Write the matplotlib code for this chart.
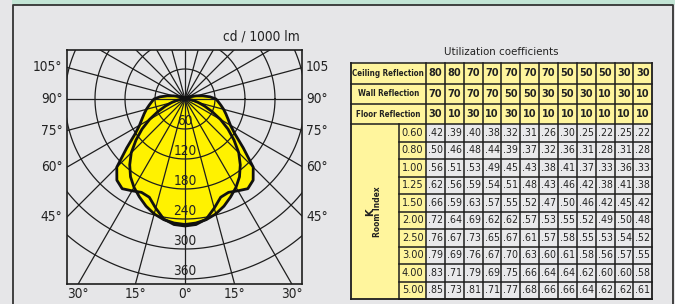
import os
import numpy as np
import matplotlib
matplotlib.use('Agg')
import matplotlib.pyplot as plt
import matplotlib.font_manager as fm
from matplotlib.patches import Rectangle

# luminous intensity, cd / 1000 lm, angle from nadir (symmetric curves)
angles = [0, 5, 10, 15, 20, 25, 30, 35, 40, 45, 50, 55, 60, 65, 70, 75, 80, 85, 90,
          95, 100, 105, 110, 120, 135, 150, 165, 180]
curve_a = [254, 252, 244, 226, 209, 206, 212, 219, 212, 193, 152, 122, 105, 95, 87, 80, 73, 67, 62,
           50, 36, 24, 16, 9, 5, 3, 1, 0]
curve_b = [251, 249, 245, 238, 228, 216, 204, 190, 172, 152, 128, 105, 82, 60, 42, 28, 18, 10, 5,
           2, 0, 0, 0, 0, 0, 0, 0, 0]
rings = [60, 120, 180, 240, 300, 360]
left_labels = ['105°', '90°', '75°', '60°', '45°']
right_labels = ['105', '90°', '75°', '60°', '45°']
side_angles = [105, 90, 75, 60, 45]
bottom_labels = ['30°', '15°', '0°', '15°', '30°']
bottom_angles = [-30, -15, 0, 15, 30]

# utilization table
ceiling = [80, 80, 70, 70, 70, 70, 70, 50, 50, 50, 30, 30]
wall = [70, 70, 70, 70, 50, 50, 30, 50, 30, 10, 30, 10]
floor_ = [30, 10, 30, 10, 30, 10, 10, 10, 10, 10, 10, 10]
room_index = ['0.60', '0.80', '1.00', '1.25', '1.50', '2.00', '2.50', '3.00', '4.00', '5.00']
coeffs = [
    ['.42', '.39', '.40', '.38', '.32', '.31', '.26', '.30', '.25', '.22', '.25', '.22'],
    ['.50', '.46', '.48', '.44', '.39', '.37', '.32', '.36', '.31', '.28', '.31', '.28'],
    ['.56', '.51', '.53', '.49', '.45', '.43', '.38', '.41', '.37', '.33', '.36', '.33'],
    ['.62', '.56', '.59', '.54', '.51', '.48', '.43', '.46', '.42', '.38', '.41', '.38'],
    ['.66', '.59', '.63', '.57', '.55', '.52', '.47', '.50', '.46', '.42', '.45', '.42'],
    ['.72', '.64', '.69', '.62', '.62', '.57', '.53', '.55', '.52', '.49', '.50', '.48'],
    ['.76', '.67', '.73', '.65', '.67', '.61', '.57', '.58', '.55', '.53', '.54', '.52'],
    ['.79', '.69', '.76', '.67', '.70', '.63', '.60', '.61', '.58', '.56', '.57', '.55'],
    ['.83', '.71', '.79', '.69', '.75', '.66', '.64', '.64', '.62', '.60', '.60', '.58'],
    ['.85', '.73', '.81', '.71', '.77', '.68', '.66', '.66', '.64', '.62', '.62', '.61'],
]


def narrow_font(bold):
    """look for an installed narrow/condensed face, None if there is none"""
    for f in fm.fontManager.ttflist:
        tag = (f.name + ' ' + os.path.basename(f.fname)).lower()
        if ('narrow' in tag or 'condensed' in tag) and 'italic' not in tag and 'oblique' not in tag:
            is_bold = 'bold' in tag or (isinstance(f.weight, int) and f.weight >= 600) or f.weight == 'bold'
            if is_bold == bold:
                return fm.FontProperties(fname=f.fname)
    return None


reg = narrow_font(False)
bld = narrow_font(True)
shrink = 1.0 if reg is not None else 0.82
if reg is None:
    reg = fm.FontProperties(family='DejaVu Sans')
if bld is None:
    bld = fm.FontProperties(family='DejaVu Sans', weight='bold')


def fp(base, size):
    p = base.copy()
    p.set_size(size * shrink)
    return p


BG = '#e6e6e8'
YELLOW = '#fff200'
PALE = '#fff59d'
LINE = '#1e1e1e'
TXT = '#222222'

W, H = 675, 304
fig = plt.figure(figsize=(W / 100, H / 100), dpi=100, facecolor=BG)

# frame / background in pixel coordinates
bg = fig.add_axes([0, 0, 1, 1])
bg.set_xlim(0, W)
bg.set_ylim(H, 0)
bg.axis('off')
bg.add_patch(Rectangle((12, 0), W - 12, 4.5, color='#c3e5d5', lw=0))
bg.plot([12.5, 12.5, 672.5, 672.5], [H, 4.5, 4.5, H], color='#333333', lw=1.3)

# ---------- polar diagram ----------
left, right, top, bottom = 67, 302, 50, 284
cx, cy = 185, 99
scale = 0.5  # px per cd
ax = fig.add_axes([left / W, (H - bottom) / H, (right - left) / W, (bottom - top) / H])
xmin, xmax = (left - cx) / scale, (right - cx) / scale
ymin, ymax = -(bottom - cy) / scale, (cy - top) / scale
ax.set_xlim(xmin, xmax)
ax.set_ylim(ymin, ymax)
ax.set_facecolor(BG)
ax.set_xticks([])
ax.set_yticks([])
for s in ax.spines.values():
    s.set_linewidth(1.2)
    s.set_color(LINE)


def curve_xy(vals):
    th = np.radians(np.concatenate([-np.array(angles[::-1]), np.array(angles[1:])]))
    r = np.concatenate([np.array(vals[::-1]), np.array(vals[1:])])
    return r * np.sin(th), -r * np.cos(th)


xa, ya = curve_xy(curve_a)
xb, yb = curve_xy(curve_b)
ax.fill(xa, ya, color=YELLOW, lw=0, zorder=1)
ax.fill(xb, yb, color=YELLOW, lw=0, zorder=1)

t = np.linspace(0, 2 * np.pi, 400)
for r in rings:
    ax.plot(r * np.cos(t), r * np.sin(t), color=LINE, lw=0.9, zorder=2)
for a in range(0, 360, 15):
    th = np.radians(a)
    ax.plot([0, 800 * np.sin(th)], [0, -800 * np.cos(th)], color=LINE, lw=0.9, zorder=2)

ax.plot(xa, ya, color='#111111', lw=2.0, zorder=3, solid_joinstyle='round')
ax.plot(xb, yb, color='#111111', lw=2.0, zorder=3, solid_joinstyle='round')

for r in rings:
    ax.text(0, -r + 2, str(r), ha='center', va='bottom', fontproperties=fp(reg, 9.8),
            color=TXT, zorder=4)

for a, ll, rl in zip(side_angles, left_labels, right_labels):
    th = np.radians(a)
    yl = xmin * np.cos(th) / np.sin(th)
    ax.text(xmin - 9, yl, ll, ha='right', va='center', fontproperties=fp(reg, 9.8),
            color=TXT, clip_on=False)
    ax.text(xmax + 8, yl, rl, ha='left', va='center', fontproperties=fp(reg, 9.8),
            color=TXT, clip_on=False)
for a, lab in zip(bottom_angles, bottom_labels):
    th = np.radians(a)
    xl = -ymin * np.tan(th)
    ax.text(xl, ymin - 5, lab, ha='center', va='top', fontproperties=fp(reg, 9.8),
            color=TXT, clip_on=False)
ax.text(xmax - 4, ymax + 12, 'cd / 1000 lm', ha='right', va='bottom',
        fontproperties=fp(reg, 9.8), color=TXT, clip_on=False)

# ---------- utilization table ----------
tx0, tx_lab, tx_idx, tx1 = 350.7, 399.3, 426, 652.3
ty0 = 63.3
hdr_h = 20.3
row_h = 17.5
ncol = len(ceiling)
cw = (tx1 - tx_idx) / ncol
ty_data = ty0 + 3 * hdr_h
ty1 = ty_data + row_h * len(room_index)

bg.text((tx0 + tx1) / 2, 52, 'Utilization coefficients', ha='center', va='center',
        fontproperties=fp(reg, 8.2), color=TXT)

bg.add_patch(Rectangle((tx0, ty0), tx_idx - tx0, ty1 - ty0, fc=PALE, ec='none'))
bg.add_patch(Rectangle((tx_idx, ty0), tx1 - tx_idx, 3 * hdr_h, fc=PALE, ec='none'))
bg.add_patch(Rectangle((tx_idx, ty_data), tx1 - tx_idx, ty1 - ty_data, fc='#e9e9eb', ec='none'))

hdr_names = ['Ceiling Reflection', 'Wall Reflection', 'Floor Reflection']
hdr_vals = [ceiling, wall, floor_]
for i, (name, vals) in enumerate(zip(hdr_names, hdr_vals)):
    yc = ty0 + hdr_h * (i + 0.5)
    bg.text((tx0 + tx_idx) / 2, yc, name, ha='center', va='center', fontproperties=fp(bld, 5.8),
            color=TXT)
    for j, v in enumerate(vals):
        bg.text(tx_idx + cw * (j + 0.5), yc, str(v), ha='center', va='center',
                fontproperties=fp(bld, 7.8), color=TXT)

for i, (k, row) in enumerate(zip(room_index, coeffs)):
    yc = ty_data + row_h * (i + 0.5)
    bg.text((tx_lab + tx_idx) / 2, yc, k, ha='center', va='center', fontproperties=fp(reg, 7.8),
            color=TXT)
    for j, v in enumerate(row):
        bg.text(tx_idx + cw * (j + 0.5), yc, v, ha='center', va='center',
                fontproperties=fp(reg, 7.6), color=TXT)

# grid lines of the table
for i in range(4):
    y = ty0 + hdr_h * i
    bg.plot([tx0, tx1], [y, y], color=LINE, lw=1.1)
for i in range(1, len(room_index) + 1):
    y = ty_data + row_h * i
    bg.plot([tx_lab, tx1], [y, y], color=LINE, lw=1.1)
bg.plot([tx0, tx1], [ty1, ty1], color=LINE, lw=1.3)
bg.plot([tx0, tx0], [ty0, ty1], color=LINE, lw=1.3)
bg.plot([tx1, tx1], [ty0, ty1], color=LINE, lw=1.3)
bg.plot([tx_lab, tx_lab], [ty_data, ty1], color=LINE, lw=1.1)
for j in range(ncol):
    x = tx_idx + cw * j
    bg.plot([x, x], [ty0, ty1], color=LINE, lw=1.1)

bg.text(370, 212, 'K', ha='center', va='center', rotation=90, fontproperties=fp(bld, 8),
        color=TXT)
bg.text(378, 212, 'Room Index', ha='center', va='center', rotation=90,
        fontproperties=fp(bld, 6), color=TXT)

fig.savefig('out.png', dpi=100, facecolor=BG)
